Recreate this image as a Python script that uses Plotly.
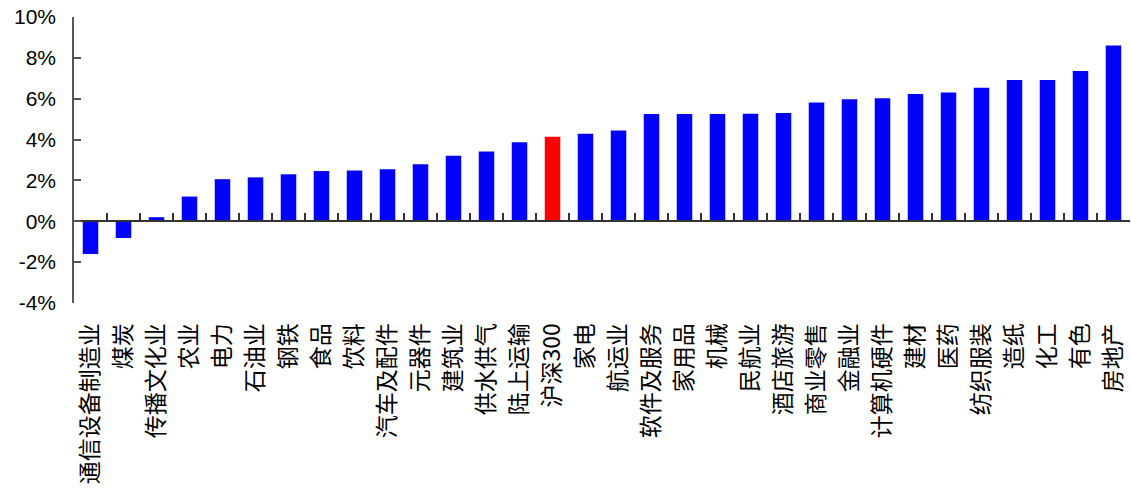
import plotly.graph_objects as go

categories = ["通信设备制造业", "煤炭", "传播文化业", "农业", "电力", "石油业", "钢铁", "食品",
              "饮料", "汽车及配件", "元器件", "建筑业", "供水供气", "陆上运输", "沪深300", "家电",
              "航运业", "软件及服务", "家用品", "机械", "民航业", "酒店旅游", "商业零售", "金融业",
              "计算机硬件", "建材", "医药", "纺织服装", "造纸", "化工", "有色", "房地产"]
values = [-1.60, -0.82, 0.20, 1.21, 2.06, 2.15, 2.30, 2.46,
          2.48, 2.55, 2.79, 3.21, 3.41, 3.87, 4.14, 4.29,
          4.44, 5.25, 5.25, 5.25, 5.27, 5.30, 5.81, 5.97,
          6.02, 6.23, 6.30, 6.54, 6.92, 6.92, 7.36, 8.60]
highlight = "沪深300"
y_ticks = [-4, -2, 0, 2, 4, 6, 8, 10]

colors = ["#FF0000" if c == highlight else "#0000FF" for c in categories]

fig = go.Figure()
fig.add_trace(go.Bar(x=categories, y=values, marker=dict(color=colors, line=dict(width=0)),
                     width=0.47, showlegend=False))

ymin, ymax = min(y_ticks), max(y_ticks)
fig.update_layout(
    width=1131, height=494,
    margin=dict(l=74, r=1, t=17, b=191),
    paper_bgcolor="white", plot_bgcolor="white",
    xaxis=dict(
        type="category",
        anchor="free", position=(0 - ymin) / (ymax - ymin),
        showline=True, linecolor="#333333", linewidth=1.5,
        ticks="inside", tickson="boundaries", ticklen=8, tickcolor="#333333", tickwidth=1.5,
        tickangle=-90, ticklabelstandoff=92,
        tickfont=dict(family="Noto Sans CJK SC", size=23, color="black"),
        showgrid=False, zeroline=False,
    ),
    yaxis=dict(
        range=[ymin, ymax], tickvals=y_ticks, ticktext=[f"{v}%" for v in y_ticks],
        showline=True, linecolor="#555555", linewidth=1.5,
        ticks="inside", ticklen=7, tickcolor="#555555", tickwidth=1.5,
        ticklabelstandoff=12,
        tickfont=dict(family="Liberation Sans, Arial", size=21, color="black"),
        showgrid=False, zeroline=False,
    ),
)

fig.write_html("out.html")
